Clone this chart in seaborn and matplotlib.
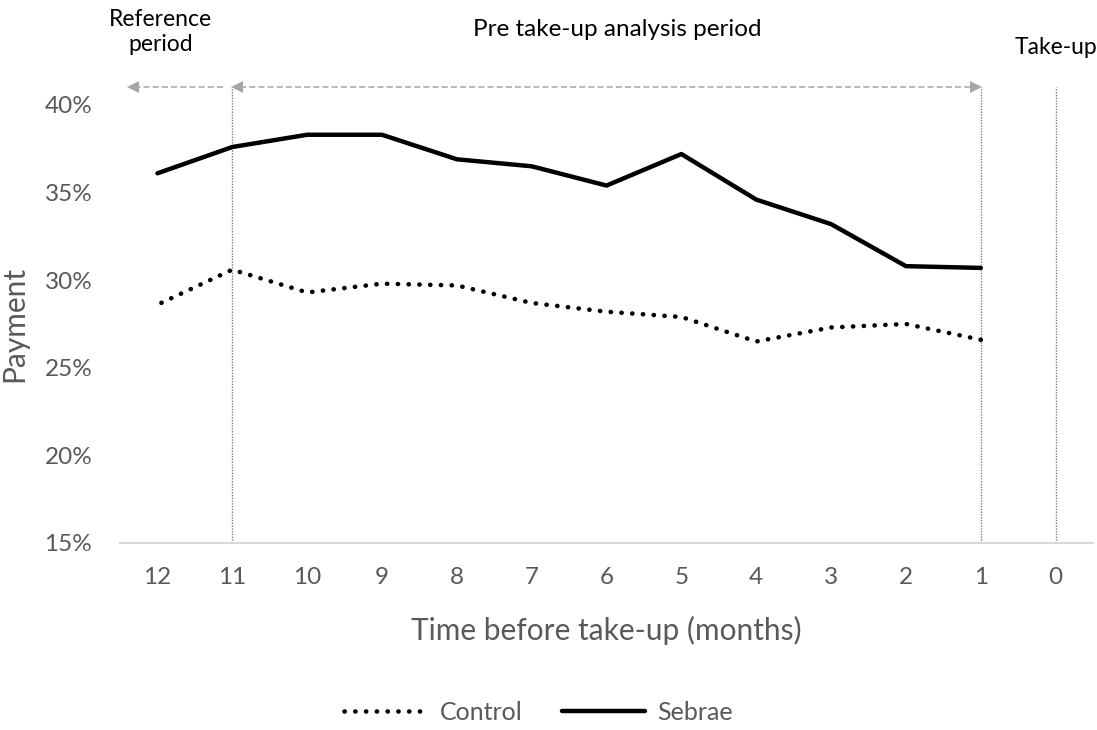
import matplotlib
matplotlib.use("Agg")
import matplotlib.pyplot as plt
import seaborn as sns
import numpy as np
import pandas as pd
from matplotlib.ticker import PercentFormatter

# months before take-up (0 = take-up, no data there)
months = [12, 11, 10, 9, 8, 7, 6, 5, 4, 3, 2, 1]
tick_months = [12, 11, 10, 9, 8, 7, 6, 5, 4, 3, 2, 1, 0]
control = [28.6, 30.6, 29.3, 29.8, 29.7, 28.7, 28.2, 27.9, 26.5, 27.3, 27.5, 26.6]
sebrae = [36.1, 37.6, 38.3, 38.3, 36.9, 36.5, 35.4, 37.2, 34.6, 33.2, 30.8, 30.7]
yticks = [15, 20, 25, 30, 35, 40]

df = pd.DataFrame({
    "month": months * 2,
    "payment": control + sebrae,
    "group": ["Control"] * len(months) + ["Sebrae"] * len(months),
})

sns.set_theme(style="white")
plt.rcParams["font.family"] = ["Lato", "DejaVu Sans"]

grey = "#595959"

fig = plt.figure(figsize=(10.97, 7.30), dpi=100)
ax = fig.add_axes([0.1094, 0.2562, 0.887, 0.6])

sns.lineplot(data=df[df.group == "Control"], x="month", y="payment", ax=ax,
             color="black", lw=3.3, label="Control", legend=False)
sns.lineplot(data=df[df.group == "Sebrae"], x="month", y="payment", ax=ax,
             color="black", lw=3.2, label="Sebrae", legend=False)
ctrl_line, seb_line = ax.lines[0], ax.lines[1]
ctrl_line.set_dashes((0.05, 2.3))
ctrl_line.set_dash_capstyle("round")
seb_line.set_solid_capstyle("round")

ax.set_xlim(12.5, -0.5)
ax.set_ylim(15, 40)
ax.set_xticks(tick_months)
ax.set_xticklabels([str(m) for m in tick_months])
ax.set_yticks(yticks)
ax.yaxis.set_major_formatter(PercentFormatter(decimals=0))
ax.tick_params(axis="x", length=0, pad=17, labelsize=17.5, labelcolor=grey)
ax.tick_params(axis="y", length=0, pad=20, labelsize=17.5, labelcolor=grey)

for s in ["left", "top", "right"]:
    ax.spines[s].set_visible(False)
ax.spines["bottom"].set_color("#d9d9d9")
ax.spines["bottom"].set_linewidth(1.5)

ax.set_xlabel("Time before take-up (months)", fontsize=21.5, color=grey)
ax.set_ylabel("Payment", fontsize=21.5, color=grey)
ax.xaxis.set_label_coords(0.5, -0.199)
ax.xaxis.label.set_va("center")
ax.yaxis.set_label_coords(-0.109, 0.5)
ax.yaxis.label.set_va("center")

# period markers
top = 41.0
for m in [11, 1, 0]:
    ax.plot([m, m], [15, top], color="#7f7f7f", lw=1.0, ls=(0, (1, 1)),
            clip_on=False, zorder=1)

arrow_col = "#a6a6a6"
ax.plot([11.13, 12.38], [top, top], color=arrow_col, lw=1.1, ls=(0, (4, 2)),
        clip_on=False)
ax.plot([12.33], [top], marker="<", ms=9, color=arrow_col, mew=0, clip_on=False)
ax.plot([10.9, 1.1], [top, top], color=arrow_col, lw=1.1, ls=(0, (4, 2)),
        clip_on=False)
ax.plot([10.94], [top], marker="<", ms=9, color=arrow_col, mew=0, clip_on=False)
ax.plot([1.06], [top], marker=">", ms=9, color=arrow_col, mew=0, clip_on=False)

ax.text(11.96, 44.17, "Reference\nperiod", ha="center", va="center",
        fontsize=16.5, color="black", linespacing=1.25, clip_on=False)
ax.text(5.86, 44.28, "Pre take-up analysis period", ha="center", va="center",
        fontsize=17.5, color="black", clip_on=False)
ax.text(0.0, 43.3, "Take-up", ha="center", va="center",
        fontsize=16.5, color="black", clip_on=False)

fig.legend(handles=[ctrl_line, seb_line], labels=["Control", "Sebrae"],
           loc="center", bbox_to_anchor=(0.491, 0.024), ncol=2, frameon=False,
           fontsize=18, labelcolor=grey, handlelength=3.3, columnspacing=1.6,
           handletextpad=0.5)

fig.savefig("out.png", dpi=100)
